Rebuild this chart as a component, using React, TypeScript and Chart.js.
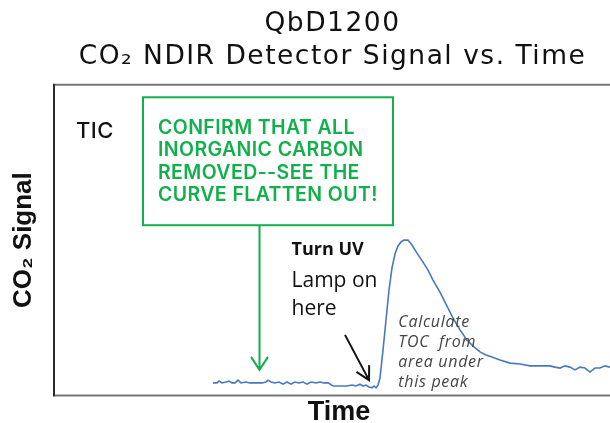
import React, { useEffect, useRef } from "react";
import { Chart, registerables } from "chart.js";

Chart.register(...registerables);

// ---- data (time in s, CO2 signal in % of full scale) ----
const timeSeconds = [
  158, 162, 164, 167, 171, 174, 177, 180, 183, 186, 191, 195, 201, 207, 211, 213, 216, 220, 224, 228,
  232, 236, 240, 244, 248, 252, 256, 261, 265, 269, 273, 278, 285, 292, 297, 301, 305, 308, 311, 314,
  317, 319, 321, 323, 325, 328, 331, 334, 337, 340, 343, 346, 349, 353, 357, 362, 368, 373, 378, 385,
  392, 398, 405, 412, 419, 425, 431, 437, 445, 455, 465, 475, 485, 495, 500, 505, 510, 515, 520, 525,
  530, 535, 540, 545, 550, 555,
];
const co2Signal = [
  3.9, 3.9, 4.5, 3.9, 4.2, 4.5, 3.9, 3.9, 4.8, 3.9, 4.2, 3.9, 3.9, 3.9, 4.2, 4.8, 4.2, 3.9, 4.2, 3.5,
  4.2, 3.5, 4.2, 3.9, 4.2, 3.5, 4.2, 3.9, 4.2, 3.9, 3.9, 2.9, 2.9, 2.9, 3.2, 2.9, 3.5, 2.9, 3.2, 2.6,
  2.3, 2.9, 2.3, 3.2, 5.5, 14.5, 24.2, 33.9, 41.0, 45.5, 48.1, 49.4, 50.0, 50.0, 48.4, 45.8, 42.9, 40.3, 37.1, 33.2,
  28.7, 24.8, 21.0, 17.7, 15.5, 13.9, 12.9, 12.3, 11.3, 10.3, 10.0, 9.4, 9.4, 9.4, 9.0, 8.7, 9.4, 9.0, 8.1, 9.0,
  8.7, 7.4, 8.7, 8.7, 9.4, 9.0,
];

const titleLines = ["QbD1200", "CO₂ NDIR Detector Signal vs. Time"];
const xAxisTitle = "Time";
const yAxisTitle = "CO₂ Signal";
const ticLabel = "TIC";
const confirmLines = ["CONFIRM THAT ALL", "INORGANIC CARBON", "REMOVED--SEE THE", "CURVE FLATTEN OUT!"];
const uvBoldLine = "Turn UV";
const uvLines = ["Lamp on", "here"];
const tocLines = ["Calculate", "TOC  from", "area under", "this peak"];

const X_MIN = 0;
const X_MAX = 555;
const Y_MIN = 0;
const Y_MAX = 100;

const GREEN = "#12b04c";

const annotationPlugin = {
  id: "annotations",
  afterLayout(chart: any) {
    // nudge the x-axis title slightly right (the scale mapping is already configured)
    const sx = chart.scales.x;
    sx.left += 6.5;
    sx.right += 6.5;
  },
  beforeDraw(chart: any) {
    // wider tracking for the chart title (drawn before the datasets)
    (chart.ctx as any).letterSpacing = "1.5px";
  },
  beforeDatasetsDraw(chart: any) {
    (chart.ctx as any).letterSpacing = "0px";
  },
  afterDraw(chart: any) {
    const { ctx, chartArea: a, scales } = chart;
    const X = (t: number) => scales.x.getPixelForValue(t);
    const Y = (v: number) => scales.y.getPixelForValue(v);
    ctx.save();

    // frame
    ctx.lineWidth = 2;
    ctx.strokeStyle = "#767676";
    ctx.beginPath();
    ctx.moveTo(a.left, a.top - 0.5);
    ctx.lineTo(a.right, a.top - 0.5);
    ctx.moveTo(a.left, a.bottom + 0.5);
    ctx.lineTo(a.right, a.bottom + 0.5);
    ctx.stroke();
    ctx.strokeStyle = "#2b2b2b";
    ctx.beginPath();
    ctx.moveTo(a.left - 1, a.top - 1.5);
    ctx.lineTo(a.left - 1, a.bottom + 1.5);
    ctx.stroke();

    // TIC
    ctx.fillStyle = "#111";
    ctx.font = "500 22px Inter";
    ctx.textBaseline = "alphabetic";
    ctx.textAlign = "left";
    (ctx as any).letterSpacing = "0.5px";
    ctx.fillText(ticLabel, X(21), Y(82.9));

    // green box
    ctx.strokeStyle = GREEN;
    ctx.lineWidth = 2;
    const bx0 = X(88), bx1 = X(338), by0 = Y(96.1), by1 = Y(54.8);
    ctx.strokeRect(bx0, by0, bx1 - bx0, by1 - by0);
    ctx.fillStyle = GREEN;
    ctx.font = "600 19.5px Inter";
    (ctx as any).letterSpacing = "0.4px";
    confirmLines.forEach((l, i) => ctx.fillText(l, X(103), Y(84.4) + i * 22.5));
    (ctx as any).letterSpacing = "0px";

    // green arrow
    const gx = X(204.5);
    const gTip = Y(8.1);
    ctx.beginPath();
    ctx.moveTo(gx, by1);
    ctx.lineTo(gx, gTip);
    ctx.moveTo(gx - 8.5, gTip - 13);
    ctx.lineTo(gx, gTip);
    ctx.lineTo(gx + 8.5, gTip - 13);
    ctx.stroke();

    // Turn UV text
    ctx.fillStyle = "#111";
    ctx.font = "700 18px 'Open Sans'";
    ctx.fillText(uvBoldLine, X(236.5), Y(45.2));
    ctx.font = "400 21px 'Open Sans'";
    ctx.fillText(uvLines[0], X(236.5), Y(34.9));
    ctx.fillText(uvLines[1], X(236.5), Y(25.8));

    // black arrow
    const sx = X(290), sy = Y(19.4), tx = X(314), ty = Y(4.8);
    const ang = Math.atan2(ty - sy, tx - sx);
    ctx.strokeStyle = "#111";
    ctx.lineWidth = 2;
    ctx.beginPath();
    ctx.moveTo(sx, sy);
    ctx.lineTo(tx, ty);
    ctx.moveTo(tx - 15 * Math.cos(ang - 0.5), ty - 15 * Math.sin(ang - 0.5));
    ctx.lineTo(tx, ty);
    ctx.lineTo(tx - 15 * Math.cos(ang + 0.5), ty - 15 * Math.sin(ang + 0.5));
    ctx.stroke();

    // italic note
    ctx.fillStyle = "#444";
    ctx.font = "italic 400 16px 'Open Sans'";
    (ctx as any).letterSpacing = "0.7px";
    tocLines.forEach((l, i) => ctx.fillText(l, X(343.3), Y(22.0) + i * 20.2));
    (ctx as any).letterSpacing = "0px";

    ctx.restore();
  },
};

export default function App() {
  const ref = useRef<HTMLCanvasElement | null>(null);
  useEffect(() => {
    if (!ref.current) return;
    const chart = new Chart(ref.current, {
      type: "line",
      data: {
        datasets: [
          {
            data: timeSeconds.map((t, i) => ({ x: t, y: co2Signal[i] })),
            borderColor: "#4a78c0",
            borderWidth: 1.6,
            pointRadius: 0,
            tension: 0,
            fill: false,
          },
        ],
      },
      options: {
        responsive: false,
        animation: false,
        events: [],
        layout: { padding: 0 },
        plugins: {
          legend: { display: false },
          tooltip: { enabled: false },
          title: {
            display: true,
            fullSize: false,
            text: titleLines,
            color: "#111",
            font: { family: "DejaVu Sans", size: 26.5, weight: "normal", lineHeight: 1.23 },
            padding: { top: 8, bottom: 12 },
          },
        },
        scales: {
          x: {
            type: "linear",
            min: X_MIN,
            max: X_MAX,
            ticks: { display: false, z: 1 },
            grid: { display: false, z: 1 },
            border: { display: false, z: 1 },
            title: {
              display: true,
              text: xAxisTitle,
              color: "#111",
              font: { family: "Liberation Sans", size: 27, weight: "bold", lineHeight: 1 },
              padding: { top: 0, bottom: -3 },
            },
            afterFit: (s: any) => {
              s.height = 28;
            },
          },
          y: {
            type: "linear",
            min: Y_MIN,
            max: Y_MAX,
            ticks: { display: false, z: 1 },
            grid: { display: false, z: 1 },
            border: { display: false, z: 1 },
            title: {
              display: true,
              text: yAxisTitle,
              color: "#111",
              font: { family: "Liberation Sans", size: 26, weight: "bold", lineHeight: 1.2 },
              padding: { top: 8, bottom: 0 },
            },
            afterFit: (s: any) => {
              s.width = 55;
            },
          },
        },
      },
      plugins: [annotationPlugin],
    });
    return () => chart.destroy();
  }, []);
  return (
    <div style={{ position: "absolute", left: 0, top: 0, width: 610, height: 423 }}>
      <canvas ref={ref} width={610} height={423} style={{ display: "block" }} />
    </div>
  );
}
